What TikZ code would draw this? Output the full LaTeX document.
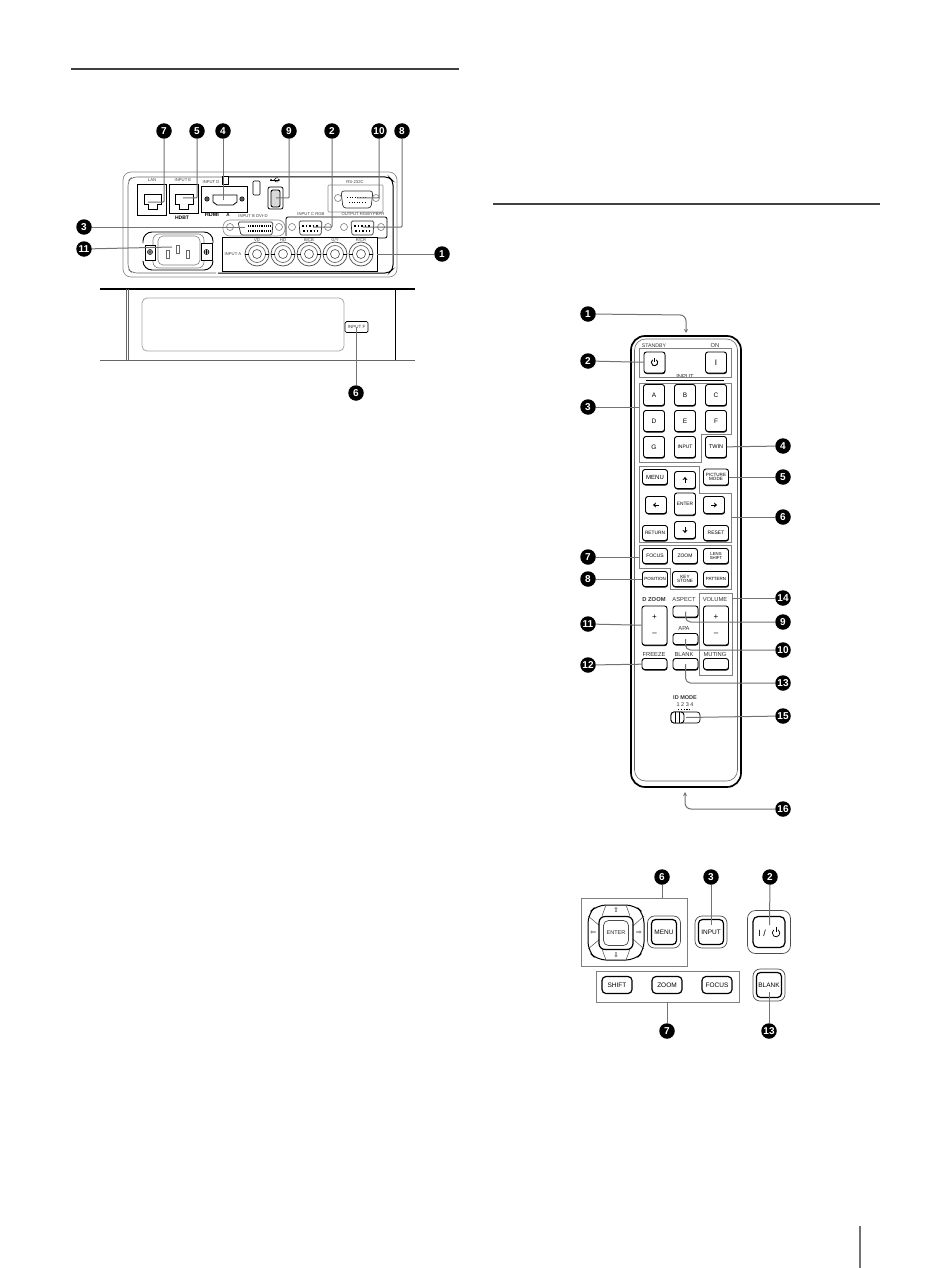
\documentclass[tikz,border=0pt]{standalone}
\usepackage{fontspec}
\setmainfont{Liberation Sans}
\newfontfamily\dvfont{DejaVu Sans}
\usetikzlibrary{arrows.meta,shadows,calc}
\newcommand{\fsz}[1]{\fontsize{#1}{#1}\selectfont}
\tikzset{
  num/.style={circle,fill=black,text=white,inner sep=0pt,minimum size=15.5pt,font=\fsz{10}\bfseries},
  lead/.style={draw=black!55,line width=1pt,rounded corners=.8pt},
  leadtip/.style={lead,-{Stealth[length=4pt,width=4pt]},rounded corners=6pt},
  group/.style={draw=black!50,line width=.7pt},
  rule/.style={draw=black!75,line width=1.1pt},
  pic text/.style={inner sep=0pt,font=\fsz{4.2},text=black!75},
  lbl/.style={inner sep=0pt,font=\fsz{5.8},text=black!80},
  btn/.style={draw=black,line width=.9pt,rounded corners=2.5pt,fill=white,inner sep=0pt,align=center,
     font=\fsz{6},text=black,
     drop shadow={shadow xshift=.4pt,shadow yshift=-1pt,fill=black,opacity=1,rounded corners=2.5pt}},
  ring/.style={draw=black!70,line width=.7pt,rounded corners=5pt,fill=white,inner sep=0pt},
  key/.style={draw=black,line width=1.2pt,rounded corners=4pt,fill=white,inner sep=0pt,align=center,font=\fsz{6.5},text=black},
  gbox/.style={draw=black!45,line width=.6pt},
  pbox/.style={draw=black,line width=.9pt},
  screw/.style={draw=black!60,line width=.5pt,circle,minimum size=7pt,inner sep=0pt},
  bncout/.style={draw=black!70,line width=.7pt,circle,minimum size=24pt,inner sep=0pt,fill=white},
  bncmid/.style={draw=black!65,line width=.6pt,circle,minimum size=17pt,inner sep=0pt},
  bncin/.style={draw=black!70,line width=.6pt,circle,minimum size=9pt,inner sep=0pt},
  conn/.style={draw=black!80,line width=.7pt,rounded corners=3pt,fill=white},
  pad/.style={draw=black,line width=.8pt},
  padarrow/.style={inner sep=0pt,font=\dvfont\fsz{6.5}},
}
\newcommand{\uparr}[2]{\draw[line width=1pt,-{Stealth[length=3pt,width=5pt]}] (#1,#2+3) -- (#1,#2-3);}
\newcommand{\dnarr}[2]{\draw[line width=1pt,-{Stealth[length=3pt,width=5pt]}] (#1,#2-3) -- (#1,#2+3);}
\newcommand{\lfarr}[2]{\draw[line width=1pt,-{Stealth[length=3pt,width=5pt]}] (#1+3,#2) -- (#1-3,#2);}
\newcommand{\rtarr}[2]{\draw[line width=1pt,-{Stealth[length=3pt,width=5pt]}] (#1-3,#2) -- (#1+3,#2);}
\newcommand{\crossmark}[3]{\draw[line width=.6pt] (#1,#2) circle[radius=#3] (#1-#3,#2) -- (#1+#3,#2) (#1,#2-#3) -- (#1,#2+#3);}
\begin{document}
\begin{tikzpicture}[x=1pt,y=-1pt]
\useasboundingbox (0,0) rectangle (950,1268);
\fill[white] (0,0) rectangle (950,1268);
% page rules
\draw[rule] (71,69) -- (459,69);
\draw[rule] (493,204) -- (880,204);
\draw[draw=black!55,line width=1.6pt] (860,1226) -- (860,1268);

%% ===== back panel =====
\draw[draw=black!45,line width=.7pt,rounded corners=8pt] (123,172) rectangle (397,277);
\draw[draw=black,line width=1pt,rounded corners=4pt] (218,273) -- (389,273) -- (393,269) -- (393,181) -- (389,177) -- (222,177);
\draw[draw=black!60,line width=.6pt,rounded corners=5pt] (222,177) -- (132,177) -- (128,181) -- (128,269) -- (132,273) -- (216,273);
% LAN
\draw[pbox] (137,184) rectangle (166,215);
\node[pic text] (lanl) at (152,180) {LAN};
\draw[line width=.8pt] (144,194) -- (161,194) -- (161,204) -- (157,204) -- (157,209) -- (148,209) -- (148,204) -- (144,204) -- cycle;
% INPUT E
\draw[pbox] (169,184) rectangle (198,213);
\node[pic text] (inel) at (183,180) {INPUT E};
\draw[line width=.8pt] (175,194) -- (193,194) -- (193,204) -- (188,204) -- (188,209) -- (179,209) -- (179,204) -- (175,204) -- cycle;
\node[inner sep=0pt,font=\fsz{5}\bfseries] (hdbt) at (182,218) {HDBT};
% HDMI
\draw[draw=black,line width=1pt] (201,187) rectangle (247,212);
\node[pic text] (indl) at (211,182) {INPUT D};
\draw[line width=.8pt] (213,195) -- (237,195) -- (237,202) -- (233,205) -- (217,205) -- (213,202) -- cycle;
\crossmark{207}{199}{2.2}
\crossmark{242}{199}{2.2}
\draw[line width=.7pt,fill=white] (222,176) rectangle (228,184);
\node[inner sep=0pt,font=\fsz{5.5}\bfseries] (hdmi) at (212,215) {HDMI};
\node[inner sep=0pt,font=\fsz{4.5}\bfseries] (hdmia) at (228,215) {A};
% lock + USB
\draw[line width=.7pt,rounded corners=1pt] (253,181) rectangle (260,195);
\draw[line width=.7pt,-{Stealth[length=2pt,width=2.5pt]}] (270,180) -- (280,180);
\fill (271,180) circle[radius=1];
\draw[line width=.5pt] (274,180) -- (276,178) -- (278,178) (274,180) -- (276,182) -- (278,182);
\draw[line width=.8pt,rounded corners=2pt] (268,187) rectangle (283,209);
\draw[line width=.9pt,fill=black!15,rounded corners=2pt] (271,190) rectangle (280,207);
% RS-232C
\draw[gbox,rounded corners=1pt] (328,185) rectangle (383,212);
\node[pic text] (rsl) at (355,182) {RS-232C};
\draw[conn] (341,191) -- (373,191) -- (371,208) -- (343,208) -- cycle;
\node[screw] (rs1) at (338,198) {};
\node[screw] (rs2) at (376,198) {};
\draw[dotted,line width=.6pt] (347,197) -- (367,197);
\draw[dotted,line width=.6pt] (349,202) -- (365,202);
% DVI
\draw[gbox,rounded corners=7pt] (223,220) rectangle (285,236);
\node[pic text] (dvil) at (253,216) {INPUT B DVI-D};
\draw[conn,rounded corners=1.5pt] (238,222) -- (273,222) -- (272,235) -- (241,235) -- cycle;
\draw[line width=2.5pt,dash pattern=on 1pt off .8pt] (248,226) -- (270,226);
\draw[line width=2.5pt,dash pattern=on 1pt off .8pt] (248,231) -- (270,231);
\node[screw] (dv1) at (230,227) {};
\node[screw] (dv2) at (279,227) {};
% INPUT C / OUTPUT
\draw[draw=black,line width=.8pt,rounded corners=2pt] (286,236) -- (286,217) -- (387,217) -- (387,238) -- (378,238);
\node[pic text] (incl) at (311,214) {INPUT C RGB};
\node[pic text] (outl) at (363,214) {OUTPUT RGB/YPBPR};
\draw[conn,rounded corners=1.5pt] (299,221) -- (322,221) -- (321,235) -- (300,235) -- cycle;
\draw[dotted,line width=1.5pt] (302,226) -- (319,226);
\draw[dotted,line width=1.5pt] (303,231) -- (318,231);
\node[screw] (ic1) at (292,227) {};
\node[screw] (ic2) at (328,227) {};
\draw[conn,rounded corners=1.5pt] (351,221) -- (374,221) -- (373,235) -- (352,235) -- cycle;
\draw[dotted,line width=1.5pt] (354,226) -- (371,226);
\draw[dotted,line width=1.5pt] (355,231) -- (370,231);
\node[screw] (oc1) at (344,227) {};
\node[screw] (oc2) at (381,227) {};
% BNC
\draw[draw=black,line width=.9pt] (222,237) rectangle (377,271);
\node[pic text] (inal) at (233,254) {INPUT A};
\foreach \n/\x in {a/257,b/283,c/309,d/335,e/361}{
  \node[bncout] (bo\n) at (\x,254) {};
  \node[bncmid] at (\x,254) {};
  \node[bncin] (bi\n) at (\x,254) {};
  \draw[line width=.8pt] (\x-12,254) -- (\x-8,254) (\x+8,254) -- (\x+12,254);
}
\node[pic text] (lva) at (257,240) {VD};
\node[pic text] (lvb) at (283,240) {HD};
\node[pic text] (lvc) at (309,240) {B/CB};
\node[pic text] (lvd) at (335,240) {G/Y};
\node[pic text] (lve) at (361,240) {R/CR};
% power inlet
\draw[draw=black,line width=.9pt,rounded corners=9pt] (143,243) -- (143,232) -- (213,232) -- (213,243);
\draw[draw=black,line width=.9pt,rounded corners=9pt] (143,262) -- (143,270) -- (213,270) -- (213,262);
\draw[draw=black!50,line width=.6pt,rounded corners=6pt] (153,234) rectangle (204,268);
\draw[draw=black!50,line width=.6pt,rounded corners=5pt] (158,236) rectangle (200,265);
\draw[line width=.8pt,fill=white] (145,245) rectangle (155,260);
\draw[line width=.8pt,fill=white] (201,243) rectangle (212,260);
\crossmark{150}{252}{2.5}
\crossmark{206.5}{252}{2.5}
\draw[draw=black!60,line width=.5pt] (166,250) rectangle (169,258) (176,245) rectangle (179,253) (186,250) rectangle (189,258);
% lower strip
\draw[draw=black,line width=1.6pt] (100,289) -- (415,289);
\draw[draw=black!60,line width=.6pt] (100,360) -- (415,360);
\draw[draw=black!60,line width=.6pt] (126,289) -- (126,360) (128,289) -- (128,360);
\draw[draw=black,line width=1pt] (395,289) -- (395,360);
\draw[draw=black!35,line width=.8pt,rounded corners=5pt] (142,298) rectangle (344,351);
\node[draw=black,line width=.7pt,rounded corners=1.5pt,minimum width=23pt,minimum height=11pt,inner sep=0pt,fill=white,font=\fsz{4.5},text=black!75] (inpf) at (356.5,327) {INPUT F};

% callouts, back
\node[num] (b7) at (164,131) {7};
\node[num] (b5) at (197,131) {5};
\node[num] (b4) at (223,131) {4};
\node[num] (b9) at (289,131) {9};
\node[num] (b2) at (332,131) {2};
\node[num] (b10) at (379,131) {10};
\node[num] (b8) at (402,131) {8};
\node[num] (b3) at (84,227) {3};
\node[num] (b11) at (84,249) {11};
\node[num] (b1) at (442,254) {1};
\node[num] (b6) at (356,393) {6};
\coordinate (t7) at (148,202);
\coordinate (t5) at (183,198);
\coordinate (t4) at (223,200);
\coordinate (t9) at (276,198);
\coordinate (t2) at (313,227);
\coordinate (t10) at (357,198);
\coordinate (t8) at (363,227);
\coordinate (t3) at (245,227);
\coordinate (t11) at (172,247);
\coordinate (t1) at (377,254);
\coordinate (t6) at (356,327);
\draw[lead] (b7) |- (t7);
\draw[lead] (b5) |- (t5);
\draw[lead] (b4) -- (t4);
\draw[lead] (b9) |- (t9);
\draw[lead] (b2) |- (t2);
\draw[lead] (b10) |- (t10);
\draw[lead] (b8) |- (t8);
\draw[lead] (b3) -- (t3);
\draw[lead] (b11) -- (t11);
\draw[lead] (b1) -- (t1);
\draw[lead] (b6) -- (t6);

%% ===== remote =====
\draw[draw=black,line width=1.7pt,rounded corners=14pt] (631,336) rectangle (741,787);
\draw[draw=black!60,line width=.6pt,rounded corners=11pt] (634.5,339) rectangle (737.5,781);
\node[lbl,font=\fsz{5.2}] (lstby) at (654,346) {STANDBY};
\node[lbl] (lon) at (715,346) {ON};
\node[lbl] (linp) at (685,377) {INPUT};
\draw[line width=.6pt] (646,380) -- (724,380);
% groups
\draw[group] (639,348) rectangle (731,377);
\draw[group] (639,383) -- (731,383) -- (731,434) -- (701,434) -- (701,462) -- (639,462) -- cycle;
\draw[group] (639,466) -- (699,466) -- (699,493) -- (731,493) -- (731,542) -- (639,542) -- cycle;
\draw[group] (639,545) -- (731,545) -- (731,589) -- (670,589) -- (670,568) -- (639,568) -- cycle;
\draw[group] (699,593) -- (732,593) -- (732,675) -- (699,675) -- cycle;
% buttons
\tikzset{sq/.style={btn,minimum width=21pt,minimum height=21pt,font=\fsz{6.5}},wd/.style={btn,minimum width=25pt,minimum height=15pt}}
\node[sq] (rstby) at (654.5,362.5) {};
\node[sq] (ron) at (716,362.5) {\fsz{8}I};
\draw[line width=.9pt] (rstby.center) ++(305:3.2) arc[start angle=305,end angle=595,radius=3.2];
\draw[line width=.9pt] (rstby.center) ++(0,-4.5) -- ++(0,4);
\node[sq] (ra) at (654,395) {A};
\node[sq] (rb) at (685,395) {B};
\node[sq] (rc) at (716,395) {C};
\node[sq] (rd) at (654,421) {D};
\node[sq] (re) at (685,421) {E};
\node[sq] (rf) at (716,421) {F};
\node[sq] (rg) at (654,447) {G};
\node[sq,font=\fsz{5}] (rinp) at (685,447) {INPUT};
\node[sq,font=\fsz{5.5}] (rtwin) at (716,447) {TWIN};
\node[wd,font=\fsz{6}] (rmenu) at (655,477) {MENU};
\node[btn,minimum width=21pt,minimum height=17pt] (rup) at (685,480) {};
\uparr{685}{480}
\node[wd,minimum height=16pt,font=\fsz{4.6}] (rpic) at (716,477) {PICTURE\\[-.5pt]MODE};
\node[btn,minimum width=21pt,minimum height=17pt] (rlf) at (656,505) {};
\lfarr{656}{505}
\node[btn,minimum width=21pt,minimum height=22pt,font=\fsz{4.8}] (rent) at (685,504) {ENTER};
\node[btn,minimum width=21pt,minimum height=17pt] (rrt) at (714,505) {};
\rtarr{714}{505}
\node[wd,font=\fsz{4.8}] (rret) at (655,533) {RETURN};
\node[btn,minimum width=21pt,minimum height=17pt] (rdn) at (685,530) {};
\dnarr{685}{530}
\node[wd,font=\fsz{5}] (rres) at (716,533) {RESET};
\node[wd,font=\fsz{5}] (rfoc) at (655,556) {FOCUS};
\node[wd,font=\fsz{5}] (rzoom) at (685,556) {ZOOM};
\node[wd,font=\fsz{4.3}] (rlens) at (716,556) {LENS\\[-.5pt]SHIFT};
\node[wd,font=\fsz{4.5}] (rpos) at (655,579) {POSITION};
\node[wd,font=\fsz{4.6}] (rkey) at (685,579) {KEY\\[-.5pt]STONE};
\node[wd,font=\fsz{4.5}] (rpat) at (716,579) {PATTERN};
\node[lbl,font=\fsz{5.8}\bfseries] (ldz) at (654,599) {D ZOOM};
\node[lbl] (lasp) at (684,599) {ASPECT};
\node[lbl] (lvol) at (715,599) {VOLUME};
\node[btn,minimum width=25pt,minimum height=39pt,font=\fsz{8}] (rdz) at (654.5,625.5) {+\\[8pt]–};
\node[btn,minimum width=25pt,minimum height=39pt,font=\fsz{8}] (rvl) at (716,625.5) {+\\[8pt]–};
\node[btn,minimum width=25pt,minimum height=11pt] (rasp) at (685.5,611.5) {};
\node[lbl] (lapa) at (684,628) {APA};
\node[btn,minimum width=25pt,minimum height=11pt] (rapa) at (685.5,639) {};
\node[lbl] (lfrz) at (654,654) {FREEZE};
\node[lbl] (lblk) at (684,654) {BLANK};
\node[lbl] (lmut) at (715,654) {MUTING};
\node[btn,minimum width=25pt,minimum height=11pt] (rfrz) at (654.5,664) {};
\node[btn,minimum width=25pt,minimum height=11pt] (rblk) at (685.5,664) {};
\node[btn,minimum width=25pt,minimum height=11pt] (rmut) at (716,664) {};
\node[lbl,font=\fsz{5.5}\bfseries] (lid) at (685,698) {ID MODE};
\node[lbl,font=\fsz{5.5}] (lnum) at (685,705) {1 2 3 4};
\draw[line width=1.2pt,dash pattern=on 1.2pt off 1.6pt] (678,709.5) -- (692,709.5);
\draw[line width=.7pt,rounded corners=3pt] (671,712) rectangle (700,723);
\draw[line width=.9pt,fill=white,rounded corners=3pt] (671,712) rectangle (684,723);
\draw[line width=.9pt] (675,712) -- (675,723) (679,712) -- (679,723);
% callouts, remote
\node[num] (r1) at (588,314) {1};
\node[num] (r2) at (588,361) {2};
\node[num] (r3) at (588,407) {3};
\node[num] (r7) at (588,557) {7};
\node[num] (r8) at (588,579) {8};
\node[num] (r11) at (588,624) {11};
\node[num] (r12) at (588,665) {12};
\node[num] (r4) at (783,446) {4};
\node[num] (r5) at (783,477) {5};
\node[num] (r6) at (783,517) {6};
\node[num] (r14) at (783,598) {14};
\node[num] (r9) at (783,622) {9};
\node[num] (r10) at (783,650) {10};
\node[num] (r13) at (783,683) {13};
\node[num] (r15) at (783,716) {15};
\node[num] (r16) at (783,809) {16};
\coordinate (e1) at (686,333);
\coordinate (e16) at (685,792);
\coordinate (e3) at (639,407);
\coordinate (e6) at (731,517);
\coordinate (e7) at (639,557);
\coordinate (e14) at (732,598);
\coordinate (e15) at (686,717.5);
\draw[leadtip] (r1) -- (686,315) -- (e1);
\draw[leadtip] (r16) -- (685,809) -- (e16);
\draw[lead] (r2) -- (rstby);
\draw[lead] (r3) -- (e3);
\draw[lead] (r7) -- (e7);
\draw[lead] (r8) -- (rpos);
\draw[lead] (r11) -- (rdz);
\draw[lead] (r12) -- (rfrz);
\draw[lead] (r4) -- (rtwin);
\draw[lead] (r5) -- (rpic);
\draw[lead] (r6) -- (e6);
\draw[lead] (r14) -- (e14);
\draw[lead,rounded corners=5pt] (r9) -- (685.5,622) -- (rasp.center);
\draw[lead,rounded corners=5pt] (r10) -- (685.5,650) -- (rapa.center);
\draw[lead,rounded corners=5pt] (r13) -- (685.5,683) -- (rblk.center);
\draw[lead] (r15) -- (e15);

%% ===== control panel =====
\draw[group] (581,898) rectangle (687,966);
\draw[group] (596,971) rectangle (739,1002);
% pad
\draw[pad,line width=1pt,rounded corners=9pt] (597,905) -- (635,905) -- (644,914) -- (644,951) -- (635,960) -- (597,960) -- (588,951) -- (588,914) -- cycle;
\draw[draw=black!70,line width=.5pt] (588,916) -- (600,926) (606,905) -- (602,916) (626,905) -- (630,916) (644,916) -- (633,926) (588,949) -- (600,939) (606,960) -- (602,949) (626,960) -- (630,949) (644,949) -- (633,939);
\node[key,minimum width=34pt,minimum height=33pt,rounded corners=6pt] (penr) at (616,933) {};
\node[ring,minimum width=25pt,minimum height=25pt,font=\fsz{5.5},text=black!85] (penri) at (616,933) {ENTER};
\node[padarrow] (pu) at (616,910) {⇧};
\node[padarrow] (pd) at (616,955) {⇩};
\node[padarrow] (pl) at (593,933) {⇦};
\node[padarrow] (pr) at (639,933) {⇨};
\node[ring,minimum width=33pt,minimum height=32pt,rounded corners=7pt] (pmo) at (664,932) {};
\node[key,minimum width=25pt,minimum height=25pt] (pm) at (664,932) {MENU};
\node[ring,minimum width=32pt,minimum height=32pt,rounded corners=7pt] (pio) at (711,932) {};
\node[key,minimum width=25pt,minimum height=25pt] (pi) at (711,932) {INPUT};
\node[ring,minimum width=43pt,minimum height=43pt,rounded corners=8pt] (ppo) at (769,932) {};
\node[key,minimum width=32pt,minimum height=31pt,rounded corners=5pt] (pp) at (769,932) {};
\node[inner sep=0pt,font=\fsz{9}] (ppi) at (762,933) {I /};
\draw[line width=.7pt] (776,933) ++(305:3.8) arc[start angle=305,end angle=595,radius=3.8];
\draw[line width=.7pt] (776,927) -- (776,932);
\node[ring,minimum width=32pt,minimum height=32pt,rounded corners=7pt] (pbo) at (769,985) {};
\node[key,minimum width=25pt,minimum height=25pt] (pb) at (769,985) {BLANK};
\node[key,minimum width=30pt,minimum height=17pt] (ps) at (617,985) {SHIFT};
\node[key,minimum width=30pt,minimum height=17pt] (pz) at (667,985) {ZOOM};
\node[key,minimum width=30pt,minimum height=17pt] (pf) at (717,985) {FOCUS};
\node[num] (p6) at (662,877) {6};
\node[num] (p3) at (711,877) {3};
\node[num] (p2) at (770,877) {2};
\node[num] (p7) at (667,1031) {7};
\node[num] (p13) at (769,1031) {13};
\coordinate (g6) at (662,898);
\coordinate (g7) at (667,1002);
\draw[lead] (p6) -- (g6);
\draw[lead] (p3) -- (711,925);
\draw[lead] (p2) -- (769.5,925);
\draw[lead] (p7) -- (g7);
\draw[lead] (p13) -- (769,992);
\end{tikzpicture}
\end{document}
